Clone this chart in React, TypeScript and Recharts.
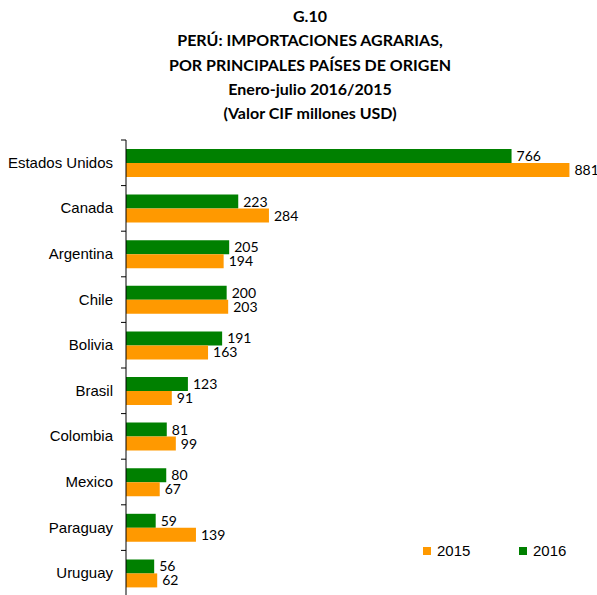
import React from 'react';
import { BarChart, Bar, XAxis, YAxis, LabelList } from 'recharts';

const countries = ['Estados Unidos', 'Canada', 'Argentina', 'Chile', 'Bolivia', 'Brasil', 'Colombia', 'Mexico', 'Paraguay', 'Uruguay'];
const values2016 = [766, 223, 205, 200, 191, 123, 81, 80, 59, 56];
const values2015 = [881, 284, 194, 203, 163, 91, 99, 67, 139, 62];
const seriesNames = ['2015', '2016'];
const seriesColors = ['#FF9900', '#008000'];
const titleLines = [
  'G.10',
  'PERÚ: IMPORTACIONES AGRARIAS,',
  'POR PRINCIPALES PAÍSES DE ORIGEN',
  'Enero-julio 2016/2015',
  '(Valor CIF millones USD)',
];

const data = countries.map((c, i) => ({ country: c, v2015: values2015[i], v2016: values2016[i] }));

const BAND = 45.6;

const CategoryTick = (props: any) => {
  const { x, y, payload } = props;
  return (
    <g>
      <line x1={x + 8} x2={x + 13} y1={y - BAND / 2} y2={y - BAND / 2} stroke="#000" strokeWidth={1} />
      <text x={x} y={y} dy={5} textAnchor="end" fontFamily="'Liberation Sans', Arial, sans-serif" fontSize={15} fill="#000">
        {payload.value}
      </text>
    </g>
  );
};

export default function App() {
  return (
    <div style={{ position: 'absolute', left: 0, top: 0, width: 597, height: 595, overflow: 'hidden', background: '#fff' }}>
      <div style={{ position: 'absolute', left: 0, top: 4, width: 620, textAlign: 'center', fontFamily: 'Lato, sans-serif', fontWeight: 700, fontSize: 16, lineHeight: '24.3px', color: '#000' }}>
        {titleLines.map((t, i) => (
          <div key={i}>{t}</div>
        ))}
      </div>
      <BarChart
        width={597}
        height={610}
        data={data}
        layout="vertical"
        margin={{ top: 140, right: 18, bottom: 14, left: 0 }}
        barGap={0}
      >
        <XAxis type="number" domain={[0, 900]} hide />
        <YAxis
          type="category"
          dataKey="country"
          width={126}
          tickSize={0}
          tickMargin={13}
          tick={<CategoryTick />}
          axisLine={{ stroke: '#000', strokeWidth: 1 }}
          tickLine={false}
          interval={0}
        />
        <Bar dataKey="v2016" fill={seriesColors[1]} barSize={14} isAnimationActive={false}>
          <LabelList dataKey="v2016" position="right" offset={5} fontFamily="Lato, sans-serif" fontSize={14} fill="#000" />
        </Bar>
        <Bar dataKey="v2015" fill={seriesColors[0]} barSize={14} isAnimationActive={false}>
          <LabelList dataKey="v2015" position="right" offset={5} fontFamily="Lato, sans-serif" fontSize={14} fill="#000" />
        </Bar>
      </BarChart>
      <div style={{ position: 'absolute', left: 423, top: 542, display: 'flex', fontFamily: "'Liberation Sans', Arial, sans-serif", fontSize: 15, color: '#000' }}>
        {seriesNames.map((n, i) => (
          <div key={n} style={{ display: 'flex', alignItems: 'center', width: 96 }}>
            <span style={{ display: 'inline-block', width: 8, height: 8, background: seriesColors[i], marginRight: 6 }} />
            <span>{n}</span>
          </div>
        ))}
      </div>
    </div>
  );
}
